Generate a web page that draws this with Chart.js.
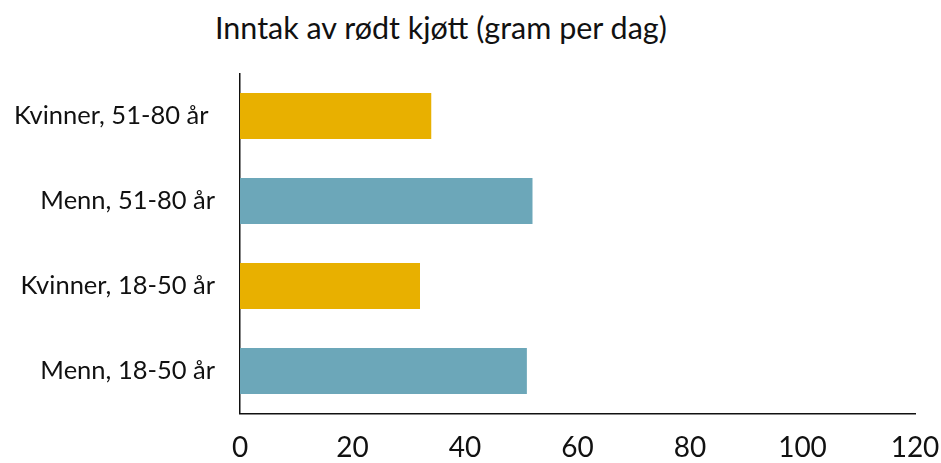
<!DOCTYPE html>
<html lang="no">
<head>
    <meta charset="UTF-8">
    <title>Inntak av rødt kjøtt</title>
    <script src="https://cdn.jsdelivr.net/npm/chart.js"></script>
    <style>
        body {
            margin: 0;
            padding: 0;
            background: #fff;
            font-family: Lato, sans-serif;
        }
        .wrap {
            position: relative;
            width: 941px;
            height: 463px;
        }
        .title {
            position: absolute;
            left: 215px;
            top: 9px;
            font-size: 30.5px;
            color: #111;
            white-space: nowrap;
        }
        canvas {
            position: absolute;
            left: 0;
            top: 0;
        }
    </style>
</head>
<body>
    <div class="wrap">
        <div class="title">Inntak av rødt kjøtt (gram per dag)</div>
        <canvas id="chart" width="941" height="463"></canvas>
    </div>

    <script>
        // Data
        const categories = ['Kvinner, 51-80 år ', 'Menn, 51-80 år', 'Kvinner, 18-50 år', 'Menn, 18-50 år'];
        const values = [34, 52, 32, 51];
        const barColors = ['#E8B000', '#6CA7B9', '#E8B000', '#6CA7B9'];
        const xTicks = [0, 20, 40, 60, 80, 100, 120];

        const ctx = document.getElementById('chart').getContext('2d');
        new Chart(ctx, {
            type: 'bar',
            data: {
                labels: categories,
                datasets: [{
                    data: values,
                    backgroundColor: barColors,
                    borderWidth: 0,
                    barPercentage: 0.54,
                    categoryPercentage: 1
                }]
            },
            options: {
                indexAxis: 'y',
                responsive: false,
                animation: false,
                layout: {
                    padding: { top: 73.5, right: 26, left: 0, bottom: 0 }
                },
                plugins: {
                    legend: { display: false },
                    tooltip: { enabled: false }
                },
                scales: {
                    x: {
                        min: 0,
                        max: 120,
                        afterBuildTicks: (axis) => {
                            axis.ticks = xTicks.map(v => ({ value: v }));
                        },
                        afterFit: (axis) => {
                            axis.height = 49.5;
                            // keep the plot edge fixed, labels may overhang
                            axis.paddingLeft = 0;
                            axis.paddingRight = 0;
                        },
                        grid: { display: false, drawTicks: false },
                        border: { display: true, color: '#111', width: 1.5 },
                        ticks: {
                            padding: 18,
                            color: '#111',
                            font: { family: 'Lato', size: 28 },
                            maxRotation: 0
                        }
                    },
                    y: {
                        afterFit: (axis) => { axis.width = 240; },
                        grid: { display: false, drawTicks: false },
                        border: { display: true, color: '#111', width: 1.5 },
                        ticks: {
                            padding: 25,
                            color: '#111',
                            font: { family: 'Lato', size: 25.5 }
                        }
                    }
                }
            }
        });
    </script>
</body>
</html>
